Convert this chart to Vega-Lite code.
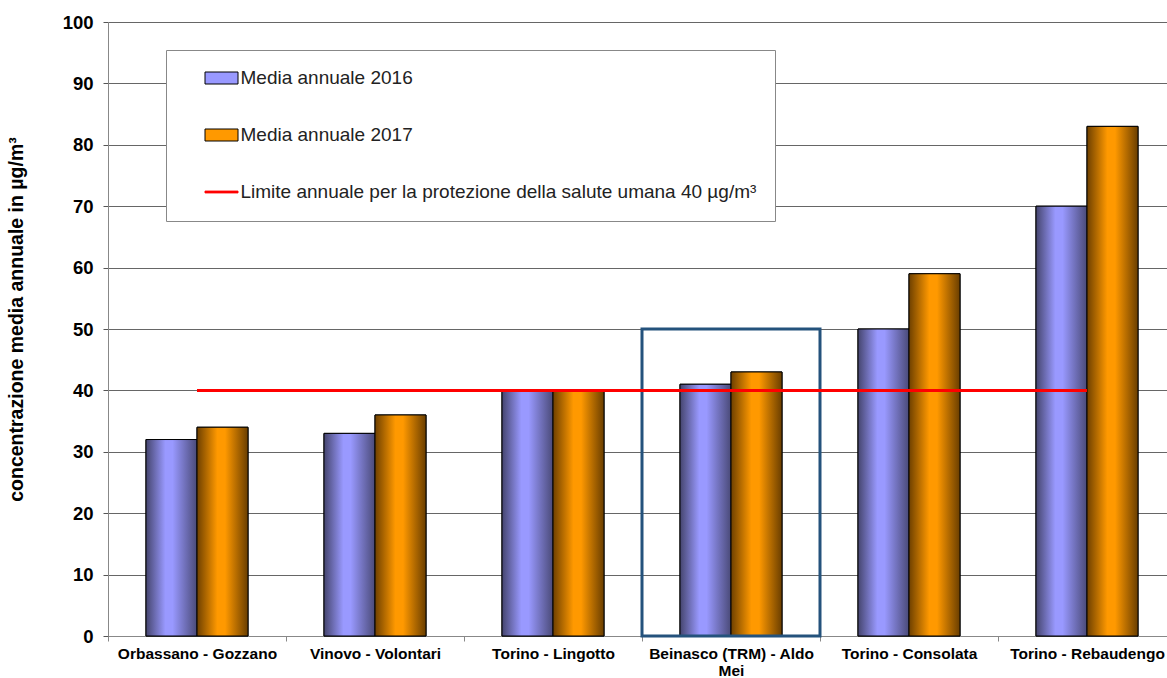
{
  "$schema": "https://vega.github.io/schema/vega-lite/v6.json",
  "width": 1068,
  "height": 614,
  "autosize": {"type": "none"},
  "padding": {"left": 108, "top": 22, "right": -9, "bottom": 42},
  "background": "white",
  "config": {"font": "Liberation Sans", "view": {"stroke": null}},
  "datasets": {
    "bars": [
      {"station": "Orbassano - Gozzano", "series": "Media annuale 2016", "value": 32},
      {"station": "Orbassano - Gozzano", "series": "Media annuale 2017", "value": 34},
      {"station": "Vinovo - Volontari", "series": "Media annuale 2016", "value": 33},
      {"station": "Vinovo - Volontari", "series": "Media annuale 2017", "value": 36},
      {"station": "Torino - Lingotto", "series": "Media annuale 2016", "value": 40},
      {"station": "Torino - Lingotto", "series": "Media annuale 2017", "value": 40},
      {"station": "Beinasco (TRM) - Aldo Mei", "series": "Media annuale 2016", "value": 41},
      {"station": "Beinasco (TRM) - Aldo Mei", "series": "Media annuale 2017", "value": 43},
      {"station": "Torino - Consolata", "series": "Media annuale 2016", "value": 50},
      {"station": "Torino - Consolata", "series": "Media annuale 2017", "value": 59},
      {"station": "Torino - Rebaudengo", "series": "Media annuale 2016", "value": 70},
      {"station": "Torino - Rebaudengo", "series": "Media annuale 2017", "value": 83}
    ],
    "limit": [
      {"station": "Orbassano - Gozzano", "station2": "Torino - Rebaudengo", "value": 40}
    ],
    "highlight": [
      {"station": "Beinasco (TRM) - Aldo Mei", "value": 0, "value2": 50}
    ]
  },
  "encoding": {
    "x": {
      "field": "station",
      "type": "nominal",
      "sort": null,
      "scale": {
        "domain": ["Orbassano - Gozzano", "Vinovo - Volontari", "Torino - Lingotto", "Beinasco (TRM) - Aldo Mei", "Torino - Consolata", "Torino - Rebaudengo"],
        "paddingInner": 0,
        "paddingOuter": 0
      },
      "axis": {
        "title": null,
        "labelAngle": 0,
        "labelFont": "Liberation Sans",
        "labelFontSize": 15.5,
        "labelFontWeight": "bold",
        "labelColor": "black",
        "labelPadding": 5,
        "labelLimit": 250,
        "labelLineHeight": 17,
        "labelExpr": "datum.value === 'Beinasco (TRM) - Aldo Mei' ? ['Beinasco (TRM) - Aldo', 'Mei'] : datum.label",
        "tickSize": 5,
        "tickBand": "extent",
        "tickColor": "#888888",
        "domainColor": "#888888",
        "grid": false
      }
    },
    "y": {
      "field": "value",
      "type": "quantitative",
      "scale": {"domain": [0, 100], "nice": false},
      "axis": {
        "values": [0, 10, 20, 30, 40, 50, 60, 70, 80, 90, 100],
        "title": "concentrazione media annuale in µg/m³",
        "titleFont": "Liberation Sans",
        "titleFontSize": 19.5,
        "titleFontWeight": "bold",
        "titleColor": "black",
        "titleX": -82,
        "titleY": 297,
        "labelFont": "Liberation Sans",
        "labelFontSize": 18.5,
        "labelFontWeight": "bold",
        "labelColor": "black",
        "labelPadding": 10,
        "tickSize": 5,
        "tickColor": "#555555",
        "domainColor": "#888888",
        "gridColor": "#666666",
        "grid": true
      }
    }
  },
  "layer": [
    {
      "data": {"name": "bars"},
      "mark": {"type": "bar", "stroke": "black", "strokeWidth": 1},
      "encoding": {
        "xOffset": {
          "field": "series",
          "type": "nominal",
          "scale": {"domain": ["Media annuale 2016", "Media annuale 2017"], "paddingInner": 0, "paddingOuter": 0.745}
        },
        "color": {
          "field": "series",
          "type": "nominal",
          "scale": {
            "domain": ["Media annuale 2016", "Media annuale 2017", "Limite annuale per la protezione della salute umana 40 µg/m³"],
            "range": ["#9999ff", "#ff9900", "#ff0000"]
          },
          "legend": {
            "title": null,
            "orient": "none",
            "legendX": 58,
            "legendY": 28,
            "fillColor": "white",
            "strokeColor": "#888888",
            "padding": 18.5,
            "rowPadding": 37,
            "symbolOffset": 27.5,
            "labelFont": "Liberation Sans",
            "labelFontSize": 19,
            "labelColor": "#222222",
            "labelOffset": 9.5,
            "labelLimit": 700,
            "symbolSize": 144,
            "symbolStrokeColor": "black",
            "symbolStrokeWidth": 1,
            "symbolOpacity": 1,
            "symbolType": "M-2.75,-1H2.75V1H-2.75Z",
            "encode": {
              "symbols": {
                "update": {
                  "shape": {"signal": "indexof(datum.value, 'Limite') === 0 ? 'M-2.75,-0.15H2.75V0.15H-2.75Z' : 'M-2.75,-1H2.75V1H-2.75Z'"},
                  "stroke": {"signal": "indexof(datum.value, 'Limite') === 0 ? '#ff0000' : '#000000'"}
                }
              }
            }
          }
        }
      }
    },
    {
      "data": {"name": "bars"},
      "transform": [{"filter": "datum.series === 'Media annuale 2016'"}],
      "mark": {
        "type": "bar",
        "stroke": "black",
        "strokeWidth": 1,
        "fill": {
          "gradient": "linear",
          "x1": 0, "y1": 0, "x2": 1, "y2": 0,
          "stops": [
            {"offset": 0, "color": "#45456e"},
            {"offset": 0.38, "color": "#9999ff"},
            {"offset": 0.52, "color": "#9999ff"},
            {"offset": 1, "color": "#4a4a78"}
          ]
        }
      },
      "encoding": {
        "xOffset": {"field": "series", "type": "nominal"}
      }
    },
    {
      "data": {"name": "bars"},
      "transform": [{"filter": "datum.series === 'Media annuale 2017'"}],
      "mark": {
        "type": "bar",
        "stroke": "black",
        "strokeWidth": 1,
        "fill": {
          "gradient": "linear",
          "x1": 0, "y1": 0, "x2": 1, "y2": 0,
          "stops": [
            {"offset": 0, "color": "#6e4000"},
            {"offset": 0.4, "color": "#ff9900"},
            {"offset": 0.55, "color": "#ff9900"},
            {"offset": 1, "color": "#6a3e00"}
          ]
        }
      },
      "encoding": {
        "xOffset": {"field": "series", "type": "nominal"}
      }
    },
    {
      "data": {"name": "highlight"},
      "mark": {"type": "rect", "fill": null, "fillOpacity": 0, "stroke": "#24527c", "strokeWidth": 3},
      "encoding": {
        "y2": {"field": "value2"}
      }
    },
    {
      "data": {"name": "limit"},
      "mark": {"type": "rule", "color": "#ff0000", "strokeWidth": 3},
      "encoding": {
        "x": {"field": "station", "type": "nominal", "bandPosition": 0.5},
        "x2": {"field": "station2", "bandPosition": 0.5}
      }
    }
  ]
}
